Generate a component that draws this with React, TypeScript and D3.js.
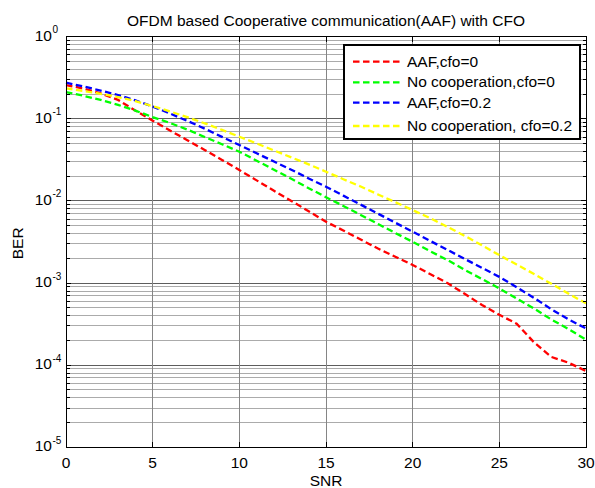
import React from 'react';
import * as d3 from 'd3';

// SNR axis (dB) and simulated bit error rates for each scheme
const snr = [0, 1, 2, 3, 4, 5, 6, 7, 8, 9, 10, 11, 12, 13, 14, 15, 16, 17, 18, 19, 20, 21, 22, 23, 24, 25, 26, 27, 28, 29, 30];

const berAafCfo0 = [
  0.258, 0.234, 0.204, 0.170, 0.126, 0.095, 0.072, 0.055, 0.0417, 0.0316,
  0.0238, 0.0178, 0.0133, 0.0100, 0.0075, 0.00558, 0.00437, 0.00339, 0.00263, 0.00209,
  0.00166, 0.00129, 0.00100, 0.00074, 0.00054, 0.00041, 0.00032, 0.00019, 0.000126, 0.000107,
  0.000085,
];

const berNoCoopCfo0 = [
  0.212, 0.191, 0.170, 0.148, 0.126, 0.105, 0.089, 0.074, 0.060, 0.049,
  0.0398, 0.0309, 0.0240, 0.0186, 0.0143, 0.0111, 0.0087, 0.00676, 0.00525, 0.00407,
  0.00318, 0.00245, 0.00191, 0.00145, 0.00112, 0.00086, 0.00065, 0.00049, 0.00036, 0.000275,
  0.000204,
];

const berAafCfo02 = [
  0.275, 0.248, 0.221, 0.195, 0.168, 0.141, 0.116, 0.0944, 0.0759, 0.0603,
  0.0480, 0.0380, 0.0302, 0.0240, 0.0188, 0.0149, 0.0116, 0.00902, 0.00700, 0.00543,
  0.00422, 0.00327, 0.00254, 0.00197, 0.00153, 0.00119, 0.00089, 0.00066, 0.00048, 0.00036,
  0.00028,
];

const berNoCoopCfo02 = [
  0.2355, 0.2188, 0.2018, 0.1841, 0.1641, 0.1429, 0.1230, 0.1047, 0.0881, 0.0733,
  0.0605, 0.0501, 0.0412, 0.0339, 0.0279, 0.0227, 0.0184, 0.0150, 0.0120, 0.00966,
  0.00774, 0.00617, 0.00484, 0.00376, 0.00288, 0.00219, 0.00168, 0.00129, 0.00098, 0.00074,
  0.000566,
];

const seriesNames = ['AAF,cfo=0', 'No cooperation,cfo=0', 'AAF,cfo=0.2', 'No cooperation, cfo=0.2'];
const seriesValues = [berAafCfo0, berNoCoopCfo0, berAafCfo02, berNoCoopCfo02];
const seriesColors = ['#ff0000', '#00ff00', '#0000ff', '#ffff00'];

const xTicks = [0, 5, 10, 15, 20, 25, 30];
const yDecadeExponents = [0, -1, -2, -3, -4, -5];
const minorMultipliers = [2, 3, 4, 5, 6, 7, 8, 9];

const titleText = 'OFDM based Cooperative communication(AAF) with CFO';
const xLabel = 'SNR';
const yLabel = 'BER';

// Layout
const W = 595;
const H = 488;
const plot = { left: 66, right: 586, top: 36.7, bottom: 447.3 };
const legendBox = { x: 344, y: 45, w: 236, h: 94 };
const legendRowOffsets = [16.7, 37.3, 57.7, 81];
const FONT = '"Liberation Sans", Arial, Helvetica, sans-serif';
const FS = 15.5;

export default function App() {
  const x = d3.scaleLinear().domain([0, 30]).range([plot.left, plot.right]);
  const y = d3.scaleLog().domain([1e-5, 1]).range([plot.bottom, plot.top]);

  const line = d3
    .line<[number, number]>()
    .x((d) => x(d[0]))
    .y((d) => y(d[1]));

  const majorY = yDecadeExponents.map((e) => Math.pow(10, e));
  const minorY: number[] = [];
  yDecadeExponents.slice(1).forEach((e) => {
    minorMultipliers.forEach((m) => minorY.push(m * Math.pow(10, e)));
  });

  const majLen = 5;
  const minLen = 3.5;

  return (
    <svg
      width={W}
      height={H}
      viewBox={`0 0 ${W} ${H}`}
      style={{ position: 'absolute', left: 0, top: 0, background: '#fff' }}
      fontFamily={FONT}
    >
      <rect x={0} y={0} width={W} height={H} fill="#fff" />

      {/* grid */}
      <g shapeRendering="crispEdges">
        {minorY.map((v, i) => (
          <line key={`gm${i}`} x1={plot.left} x2={plot.right} y1={y(v)} y2={y(v)} stroke="#ababab" strokeWidth={1} />
        ))}
        {majorY.map((v, i) => (
          <line key={`gM${i}`} x1={plot.left} x2={plot.right} y1={y(v)} y2={y(v)} stroke="#5e5e5e" strokeWidth={1} />
        ))}
        {xTicks.map((t) => (
          <line key={`gx${t}`} x1={x(t)} x2={x(t)} y1={plot.top} y2={plot.bottom} stroke="#858585" strokeWidth={1} />
        ))}
      </g>

      {/* curves */}
      <g fill="none">
        {seriesValues.map((vals, si) => (
          <path
            key={`s${si}`}
            d={line(snr.map((s, i) => [s, vals[i]] as [number, number])) || ''}
            stroke={seriesColors[si]}
            strokeWidth={2.3}
            strokeDasharray="6.5,3.5"
          />
        ))}
      </g>

      {/* axes frame and ticks */}
      <g stroke="#000" strokeWidth={1} shapeRendering="crispEdges">
        <rect x={plot.left} y={plot.top} width={plot.right - plot.left} height={plot.bottom - plot.top} fill="none" />
        {xTicks.map((t) => (
          <g key={`xt${t}`}>
            <line x1={x(t)} x2={x(t)} y1={plot.bottom} y2={plot.bottom - majLen} />
            <line x1={x(t)} x2={x(t)} y1={plot.top} y2={plot.top + majLen} />
          </g>
        ))}
        {majorY.map((v, i) => (
          <g key={`yt${i}`}>
            <line x1={plot.left} x2={plot.left + majLen} y1={y(v)} y2={y(v)} />
            <line x1={plot.right} x2={plot.right - majLen} y1={y(v)} y2={y(v)} />
          </g>
        ))}
        {minorY.map((v, i) => (
          <g key={`ym${i}`}>
            <line x1={plot.left} x2={plot.left + minLen} y1={y(v)} y2={y(v)} />
            <line x1={plot.right} x2={plot.right - minLen} y1={y(v)} y2={y(v)} />
          </g>
        ))}
      </g>

      {/* tick labels */}
      <g fontSize={FS} fill="#000">
        {xTicks.map((t) => (
          <text key={`xl${t}`} x={x(t)} y={plot.bottom + 21} textAnchor="middle">
            {t}
          </text>
        ))}
        {yDecadeExponents.map((e) => (
          <g key={`yl${e}`}>
            <text x={52} y={y(Math.pow(10, e)) + 4} textAnchor="end">
              10
            </text>
            <text x={52.5} y={y(Math.pow(10, e)) - 3.5} fontSize={10}>
              {String(e)}
            </text>
          </g>
        ))}
      </g>

      {/* titles */}
      <text x={(plot.left + plot.right) / 2} y={26} textAnchor="middle" fontSize={FS}>
        {titleText}
      </text>
      <text x={(plot.left + plot.right) / 2} y={486} textAnchor="middle" fontSize={FS}>
        {xLabel}
      </text>
      <text transform={`translate(22.5,243.3) rotate(-90)`} textAnchor="middle" fontSize={FS}>
        {yLabel}
      </text>

      {/* legend */}
      <g>
        <rect
          x={legendBox.x}
          y={legendBox.y}
          width={legendBox.w}
          height={legendBox.h}
          fill="#fff"
          stroke="#000"
          strokeWidth={1.2}
          shapeRendering="crispEdges"
        />
        {seriesNames.map((name, i) => {
          const ly = legendBox.y + legendRowOffsets[i];
          return (
            <g key={`lg${i}`}>
              <line
                x1={legendBox.x + 9}
                x2={legendBox.x + 56}
                y1={ly}
                y2={ly}
                stroke={seriesColors[i]}
                strokeWidth={2.3}
                strokeDasharray="6.5,3.5"
              />
              <text x={legendBox.x + 63} y={ly + 5} fontSize={FS}>
                {name}
              </text>
            </g>
          );
        })}
      </g>
    </svg>
  );
}
